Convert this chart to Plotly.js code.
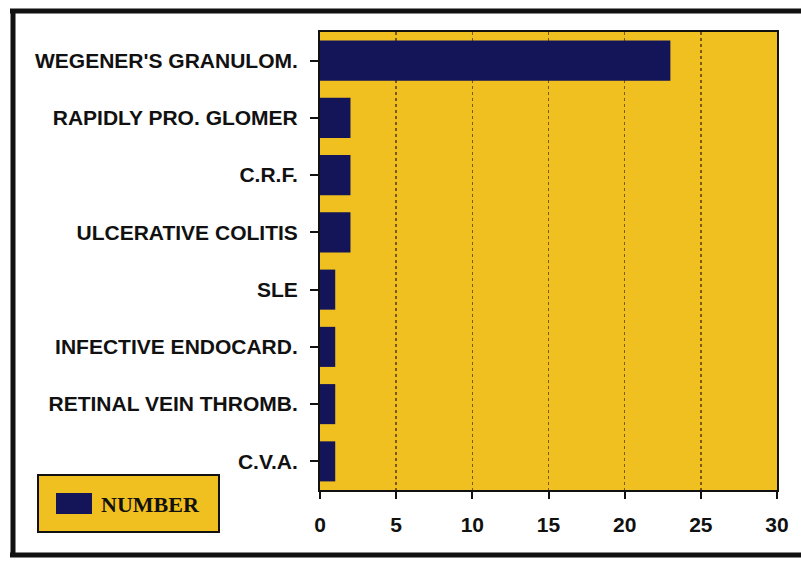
<!DOCTYPE html>
<html>
<head>
<meta charset="utf-8">
<script src="https://cdn.plot.ly/plotly-3.0.1.min.js"></script>
<style>
  html, body { margin: 0; padding: 0; background: #ffffff; }
  #chart { width: 801px; height: 563px; }
</style>
</head>
<body>
<div id="chart"></div>
<script>
const categories = [
  "WEGENER'S GRANULOM.",
  "RAPIDLY PRO. GLOMER",
  "C.R.F.",
  "ULCERATIVE COLITIS",
  "SLE",
  "INFECTIVE ENDOCARD.",
  "RETINAL VEIN THROMB.",
  "C.V.A."
];
const numberValues = [23, 2, 2, 2, 1, 1, 1, 1];
const seriesName = "NUMBER";
const xTickValues = [0, 5, 10, 15, 20, 25, 30];
const xTickLabels = ["0", "5", "10", "15", "20", "25", "30"];

const W = 801, H = 563;
const M = { l: 320, r: 24, t: 32, b: 73 };
const pw = W - M.l - M.r, ph = H - M.t - M.b;
const px = v => (v - M.l) / pw;
const py = v => (H - M.b - v) / ph;

const navy = "#141458";
const yellow = "#f0c020";
const ink = "#111111";

const trace = {
  type: "bar",
  orientation: "h",
  name: seriesName,
  y: categories,
  x: numberValues,
  width: 0.7,
  marker: { color: navy, line: { width: 0 } },
  showlegend: false,
  hoverinfo: "x+y"
};

const layout = {
  width: W,
  height: H,
  margin: M,
  paper_bgcolor: "#ffffff",
  plot_bgcolor: yellow,
  font: { family: "Liberation Sans, Arial, sans-serif", color: ink },
  showlegend: false,
  xaxis: {
    range: [0, 30],
    tickvals: xTickValues,
    ticktext: xTickLabels,
    ticks: "outside",
    ticklen: 7,
    tickwidth: 2,
    tickcolor: ink,
    ticklabelstandoff: 8,
    tickfont: { family: "Liberation Sans, Arial, sans-serif", size: 21, weight: 700, color: ink },
    showgrid: true,
    gridcolor: "#7a5a10",
    griddash: "dot",
    gridwidth: 1.5,
    zeroline: false,
    showline: true,
    linecolor: ink,
    linewidth: 2,
    mirror: true,
    fixedrange: true
  },
  yaxis: {
    type: "category",
    range: [7.5, -0.5],
    ticks: "outside",
    ticklen: 8,
    tickwidth: 2,
    tickcolor: ink,
    ticklabelstandoff: 8,
    tickfont: { family: "Liberation Sans, Arial, sans-serif", size: 21, weight: 700, color: ink },
    showgrid: false,
    zeroline: false,
    showline: true,
    linecolor: ink,
    linewidth: 2,
    mirror: true,
    fixedrange: true
  },
  shapes: [
    // outer frame (top, left, bottom)
    { type: "line", xref: "paper", yref: "paper", x0: px(10), x1: px(801), y0: py(11), y1: py(11), line: { color: ink, width: 5 } },
    { type: "line", xref: "paper", yref: "paper", x0: px(13), x1: px(13), y0: py(9), y1: py(557), line: { color: ink, width: 5 } },
    { type: "line", xref: "paper", yref: "paper", x0: px(10), x1: px(801), y0: py(555), y1: py(555), line: { color: ink, width: 5 } },
    // legend box
    { type: "rect", xref: "paper", yref: "paper", x0: px(38), x1: px(219), y0: py(475), y1: py(532), fillcolor: yellow, line: { color: ink, width: 2 } },
    // legend swatch
    { type: "rect", xref: "paper", yref: "paper", x0: px(56), x1: px(92), y0: py(493), y1: py(514), fillcolor: navy, line: { width: 0 } }
  ],
  annotations: [
    {
      xref: "paper", yref: "paper",
      x: px(99), y: py(505),
      xanchor: "left", yanchor: "middle",
      text: "<b>" + seriesName + "</b>",
      showarrow: false,
      font: { family: "Liberation Serif, Times New Roman, serif", size: 22, color: ink }
    }
  ]
};

Plotly.newPlot("chart", [trace], layout, { displayModeBar: false, staticPlot: true });
</script>
</body>
</html>
